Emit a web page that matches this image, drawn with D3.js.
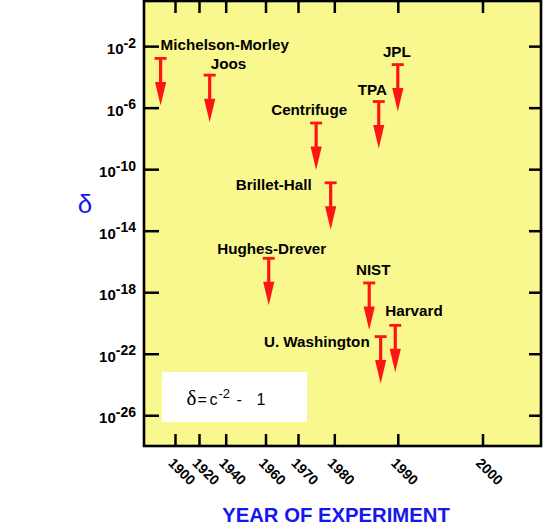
<!DOCTYPE html>
<html>
<head>
<meta charset="utf-8">
<script src="https://cdn.jsdelivr.net/npm/d3@7"></script>
<style>
  body { margin: 0; background: #fff; }
  text { font-family: "Liberation Sans", Arial, Helvetica, sans-serif; }
</style>
</head>
<body>
<svg></svg>
<script>
// experiments, year of experiment and upper bound on delta
var experiments = ["Michelson-Morley", "Joos", "Centrifuge", "Brillet-Hall", "Hughes-Drever",
                   "JPL", "TPA", "NIST", "U. Washington", "Harvard"];
var years = [1888, 1928, 1975, 1979, 1961, 1990, 1987, 1985.5, 1987.3, 1989.6];
var bounds = [1.6e-3, 1.3e-4, 1e-7, 1.3e-11, 1.6e-16, 6.3e-4, 2.5e-6, 4e-18, 1.3e-21, 7e-21];

// the year axis is not uniform in the original figure
var yearTicks = [1900, 1920, 1940, 1960, 1970, 1980, 1990, 2000];
var yearTickPos = [175, 199, 225.7, 265.5, 298, 334.3, 397.8, 482.5];
var deltaTicks = [1e-2, 1e-6, 1e-10, 1e-14, 1e-18, 1e-22, 1e-26];

// label placement relative to the top of each arrow: [dx, dy, anchor]
var labelOffsets = [[0, -8, "start"], [1, -6.5, "start"], [-7, -8, "middle"], [-19, 7.5, "end"],
                    [3, -4.5, "middle"], [-1, -7.5, "middle"], [-6.5, -6.5, "middle"],
                    [4, -7.5, "middle"], [-11, 10.7, "end"], [-10, -9.5, "start"]];

var svgWidth = 545, svgHeight = 530;
var plotLeft = 144, plotRight = 541, plotTop = 1, plotBottom = 446;
var blue = "#1616f0", red = "#ff1414";

var svg = d3.select("svg")
            .attr("width", svgWidth)
            .attr("height", svgHeight);

var x = d3.scaleLinear()
          .domain(yearTicks)
          .range(yearTickPos);

var y = d3.scaleLog()
          .domain([1e-28, 10])
          .range([plotBottom, 0]);

svg.append("rect")
   .attr("x", plotLeft).attr("y", plotTop)
   .attr("width", plotRight - plotLeft).attr("height", plotBottom - plotTop)
   .attr("fill", "#f8f88e");

// left axis with superscript labels
var yAxisL = svg.append("g")
   .attr("transform", "translate(" + plotLeft + ",0)")
   .call(d3.axisLeft(y).tickValues(deltaTicks).tickSizeInner(-15).tickSizeOuter(0).tickPadding(8));
yAxisL.selectAll(".tick text")
   .attr("dy", "0.5em")
   .attr("font-size", 15)
   .attr("font-weight", "bold")
   .attr("fill", "#000")
   .text("10")
   .append("tspan")
   .attr("dy", "-0.45em")
   .attr("font-size", 14)
   .text(function(d) { return Math.round(Math.log10(d)); });

svg.append("g")
   .attr("transform", "translate(" + plotRight + ",0)")
   .call(d3.axisRight(y).tickValues(deltaTicks).tickSizeInner(-12).tickSizeOuter(0).tickFormat(""));

svg.append("g")
   .attr("transform", "translate(0," + plotTop + ")")
   .call(d3.axisTop(x).tickValues(yearTicks).tickSizeInner(-12).tickSizeOuter(0).tickFormat(""));

var xAxis = svg.append("g")
   .attr("transform", "translate(0," + plotBottom + ")")
   .call(d3.axisBottom(x).tickValues(yearTicks).tickSizeInner(-12).tickSizeOuter(0).tickFormat(d3.format("d")));
xAxis.selectAll(".tick text")
   .attr("x", 0).attr("y", 0).attr("dy", 0)
   .attr("text-anchor", "start")
   .attr("transform", "translate(-8,18) rotate(45)")
   .attr("font-size", 14)
   .attr("font-weight", "bold")
   .attr("fill", "#000");

svg.selectAll(".domain").remove();
svg.selectAll(".tick line")
   .attr("stroke", "#000")
   .attr("stroke-width", 2.5);

svg.append("rect")
   .attr("x", plotLeft).attr("y", plotTop)
   .attr("width", plotRight - plotLeft).attr("height", plotBottom - plotTop)
   .attr("fill", "none")
   .attr("stroke", "#000")
   .attr("stroke-width", 2.6);

// upper-limit arrows
var data = experiments.map(function(name, i) {
    return { name: name, year: years[i], bound: bounds[i], off: labelOffsets[i] };
});

var arrows = svg.selectAll(".limit")
   .data(data)
   .enter().append("g")
   .attr("class", "limit")
   .attr("transform", function(d) { return "translate(" + x(d.year) + "," + y(d.bound) + ")"; });

arrows.append("line")
   .attr("x1", -6).attr("x2", 6)
   .attr("stroke", red).attr("stroke-width", 2.8);

arrows.append("line")
   .attr("y1", 0).attr("y2", 26)
   .attr("stroke", red).attr("stroke-width", 3.2);

arrows.append("path")
   .attr("d", "M-5.6,23.5L5.6,23.5L0,47Z")
   .attr("fill", red);

arrows.append("text")
   .attr("x", function(d) { return d.off[0]; })
   .attr("y", function(d) { return d.off[1]; })
   .attr("text-anchor", function(d) { return d.off[2]; })
   .attr("font-size", 15.2)
   .attr("font-weight", "bold")
   .text(function(d) { return d.name; });

// formula box
svg.append("rect")
   .attr("x", 162).attr("y", 372)
   .attr("width", 145).attr("height", 50)
   .attr("fill", "#fff");

var formula = svg.append("text")
   .attr("y", 404.5)
   .attr("font-size", 16);
formula.append("tspan")
   .attr("x", 186.5)
   .attr("font-family", "'Liberation Serif', 'Times New Roman', serif")
   .attr("font-size", 21)
   .text("\u03b4");
formula.append("tspan").attr("x", 197.5).text("=");
formula.append("tspan").attr("x", 209.5).text("c");
formula.append("tspan").attr("x", 218.5).attr("dy", -7).attr("font-size", 13).text("-2");
formula.append("tspan").attr("x", 236.5).attr("dy", 7).text("-");
formula.append("tspan").attr("x", 256.5).text("1");

// axis titles
svg.append("text")
   .attr("x", 85).attr("y", 213)
   .attr("text-anchor", "middle")
   .attr("font-family", "'Liberation Serif', 'Times New Roman', serif")
   .attr("font-size", 26)
   .attr("fill", blue)
   .text("\u03b4");

svg.append("text")
   .attr("x", 336).attr("y", 522)
   .attr("text-anchor", "middle")
   .attr("font-size", 20.3)
   .attr("font-weight", "bold")
   .attr("fill", blue)
   .text("YEAR OF EXPERIMENT");
</script>
</body>
</html>
